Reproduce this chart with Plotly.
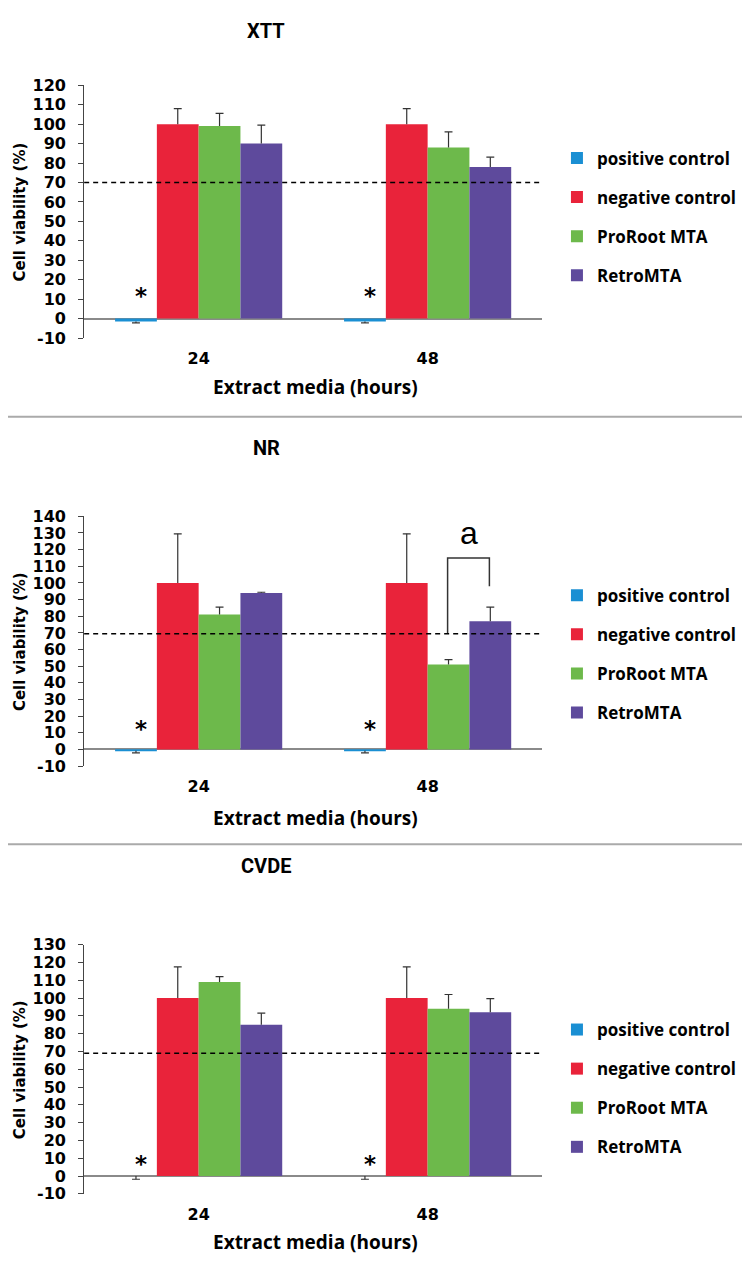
import plotly.graph_objects as go

# page is 750x1267; the default HTML body margin of 8px is accounted for
PAGE_W, PAGE_H = 750, 1267
BODY_M = 8
FW, FH = PAGE_W - 2 * BODY_M, PAGE_H - 2 * BODY_M

# ---------------- data ----------------
hours = ["24", "48"]
series_names = ["positive control", "negative control", "ProRoot MTA", "RetroMTA"]
series_colors = ["#1A8FD3", "#E9233A", "#6DB94B", "#5E4A9C"]
panel_titles = ["XTT", "NR", "CVDE"]

# XTT
xtt_pos = [-1.5, -1.5]
xtt_pos_err = [0.7, 0.7]
xtt_neg = [100, 100]
xtt_neg_err = [8, 8]
xtt_pro = [99, 88]
xtt_pro_err = [6.5, 8]
xtt_retro = [90, 78]
xtt_retro_err = [9.5, 5]

# NR
nr_pos = [-0.8, -0.8]
nr_pos_err = [1.2, 1.2]
nr_neg = [100, 100]
nr_neg_err = [29.5, 29.5]
nr_pro = [81, 51]
nr_pro_err = [4.5, 3]
nr_retro = [94, 77]
nr_retro_err = [0.4, 8.5]

# CVDE
cvde_pos = [0, 0]
cvde_pos_err = [1.8, 1.8]
cvde_neg = [100, 100]
cvde_neg_err = [17.5, 17.5]
cvde_pro = [109, 94]
cvde_pro_err = [3, 8]
cvde_retro = [85, 92]
cvde_retro_err = [6.5, 7.7]

y_max = [120, 140, 130]
y_min = -10
threshold = [70, 69.5, 69]
star_y = [11.5, 12.5, 7]

# NR significance bracket (48 h, ProRoot vs RetroMTA)
bracket_top = 115
bracket_left_bottom = 70
bracket_right_bottom = 98
bracket_label = "a"
bracket_label_y = 130

panels = [
    [(xtt_pos, xtt_pos_err), (xtt_neg, xtt_neg_err), (xtt_pro, xtt_pro_err), (xtt_retro, xtt_retro_err)],
    [(nr_pos, nr_pos_err), (nr_neg, nr_neg_err), (nr_pro, nr_pro_err), (nr_retro, nr_retro_err)],
    [(cvde_pos, cvde_pos_err), (cvde_neg, cvde_neg_err), (cvde_pro, cvde_pro_err), (cvde_retro, cvde_retro_err)],
]

# ---------------- layout geometry (page pixels) ----------------
plot_x0, plot_x1 = 85, 548
panel_px = [(77.3, 334.0), (515.0, 768.7), (950.0, 1203.0)]  # top, bottom
title_px = [22, 446, 870]
xtitle_px = [384, 821, 1252]
legend_mid_px = [211, 655, 1096]
separators_px = [414, 848]

bargap = 0.27
gw = 1 - bargap
bw = gw / 4
cap_half = 4 / ((plot_x1 - plot_x0) / 2)  # 4 px in data units


def offset(k):
    return -gw / 2 + bw * (k + 0.5)


def py(px):
    return 1 - (px - BODY_M) / FH


def pxx(px):
    return (px - BODY_M) / FW


fig = go.Figure()

tick_font = dict(family="DejaVu Sans", size=16, color="black", weight="bold")
leg_font = dict(family="Open Sans", size=17, color="black", weight="bold")
xt_font = dict(family="Open Sans", size=19, color="black", weight="bold")
xpos = list(range(len(hours)))

for p, panel in enumerate(panels):
    sfx = "" if p == 0 else str(p + 1)
    leg = "legend" if p == 0 else f"legend{p + 1}"
    ex, ey = [], []
    for k, (vals, errs) in enumerate(panel):
        fig.add_trace(go.Bar(
            x=xpos, y=vals, name=series_names[k],
            marker=dict(color=series_colors[k], line=dict(width=0)),
            xaxis="x" + sfx, yaxis="y" + sfx,
            legend=leg, legendgroup=f"p{p}s{k}",
        ))
        # one-sided error bars (away from zero), built from the data
        for i, (v, e) in enumerate(zip(vals, errs)):
            xc = i + offset(k)
            end = v + e if v > 0 else v - e
            ex += [xc, xc, None, xc - cap_half, xc + cap_half, None]
            ey += [v, end, None, end, end, None]
    fig.add_trace(go.Scatter(
        x=ex, y=ey, mode="lines", line=dict(color="#333333", width=1.2),
        xaxis="x" + sfx, yaxis="y" + sfx, showlegend=False, hoverinfo="skip",
    ))

    top, bot = panel_px[p]
    ytv = list(range(y_min, y_max[p] + 1, 10))
    fig.layout["xaxis" + sfx] = dict(
        domain=[pxx(plot_x0), pxx(plot_x1)], anchor="y" + sfx,
        range=[-0.5, 1.5], tickvals=xpos, ticktext=hours,
        showline=False, ticks="", showgrid=False, zeroline=False,
        tickfont=dict(family="DejaVu Sans", size=16, color="black", weight="bold"),
        ticklabelstandoff=9,
    )
    fig.layout["yaxis" + sfx] = dict(
        domain=[py(bot), py(top)], anchor="x" + sfx,
        range=[y_min, y_max[p]], tickvals=ytv, ticktext=[str(v) for v in ytv],
        showline=True, linecolor="#444444", linewidth=1,
        ticks="outside", ticklen=5, tickcolor="#444444",
        showgrid=False, zeroline=True, zerolinecolor="#8a8a8a", zerolinewidth=1.5,
        tickfont=tick_font, ticklabelstandoff=9,
    )
    fig.layout[leg] = dict(
        x=pxx(563), y=py(legend_mid_px[p]), xanchor="left", yanchor="middle",
        font=leg_font, bgcolor="rgba(0,0,0,0)", traceorder="grouped",
        tracegroupgap=14,
    )

    # threshold line
    fig.add_shape(type="line", xref=f"x{sfx} domain", yref="y" + sfx,
                  x0=0, x1=1, y0=threshold[p], y1=threshold[p],
                  line=dict(color="black", width=1.5, dash="5px,4px"))

    # asterisks over positive control
    for i in xpos:
        fig.add_annotation(x=i + offset(0) + 0.02, y=star_y[p], xref="x" + sfx, yref="y" + sfx,
                           text="*", showarrow=False, yanchor="middle",
                           font=dict(family="DejaVu Sans", size=23, color="black", weight="bold"))

    # panel title
    fig.add_annotation(x=pxx(269), y=py(title_px[p]), xref="paper", yref="paper",
                       text=panel_titles[p], showarrow=False, yanchor="middle",
                       font=dict(family="Liberation Sans Narrow, Roboto", size=20, color="black",
                                 weight="bold"))
    # x-axis title
    fig.add_annotation(x=pxx(319), y=py(xtitle_px[p]), xref="paper", yref="paper",
                       text="Extract media (hours)", showarrow=False, yanchor="middle",
                       font=xt_font)
    # y-axis title
    fig.add_annotation(x=pxx(20), y=py((top + bot) / 2), xref="paper", yref="paper",
                       text="Cell viability (%)", showarrow=False, textangle=-90,
                       xanchor="center", yanchor="middle",
                       font=dict(family="DejaVu Sans", size=15, color="black", weight="bold"))

# NR bracket
bl = 1 + offset(2) - 0.004
br = 1 + offset(3) - 0.004
fig.add_shape(type="path", xref="x2", yref="y2",
              path=f"M {bl},{bracket_left_bottom} L {bl},{bracket_top} L {br},{bracket_top} L {br},{bracket_right_bottom}",
              line=dict(color="#333333", width=1.5))
fig.add_annotation(x=(bl + br) / 2, y=bracket_label_y, xref="x2", yref="y2",
                   text=bracket_label, showarrow=False, yanchor="middle",
                   font=dict(family="Liberation Sans", size=32, color="black"))

for s in separators_px:
    fig.add_shape(type="line", xref="paper", yref="paper", x0=-0.02, x1=1.02, y0=py(s), y1=py(s),
                  line=dict(color="#aaaaaa", width=2))

fig.update_layout(
    width=FW, height=FH, autosize=False,
    margin=dict(l=0, r=0, t=0, b=0),
    paper_bgcolor="white", plot_bgcolor="white",
    barmode="group", bargap=bargap, bargroupgap=0,
    showlegend=True,
)

fig.write_html("out.html")
